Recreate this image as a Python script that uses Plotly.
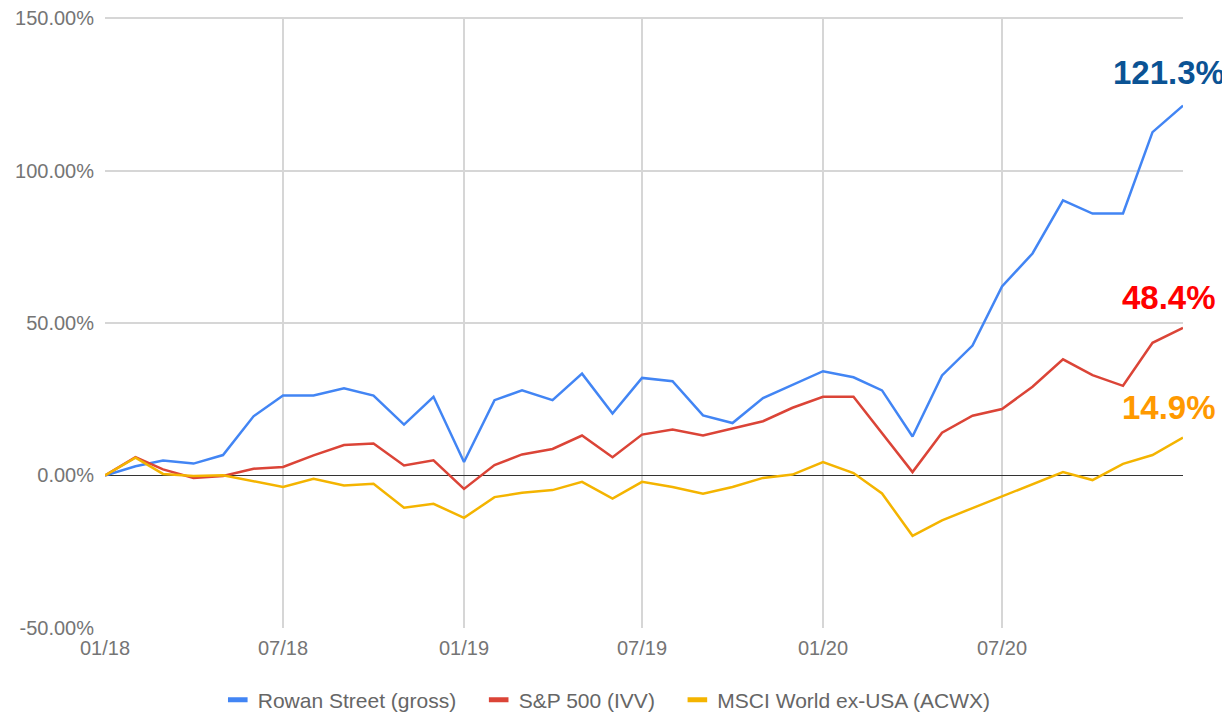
import plotly.graph_objects as go
import pandas as pd

dates = pd.date_range("2018-01-01", "2021-01-01", freq="MS")
tick_dates = pd.date_range("2018-01-01", "2020-07-01", freq="6MS")
y_ticks = [-50, 0, 50, 100, 150]

rowan = [0, 3.0, 4.9, 3.9, 6.7, 19.4, 26.2, 26.2, 28.6, 26.2, 16.7, 25.8, 4.4,
         24.7, 27.9, 24.7, 33.4, 20.3, 32.0, 30.9, 19.7, 17.2, 25.4, 29.6, 34.2,
         32.2, 27.9, 12.8, 32.8, 42.6, 62.0, 72.8, 90.2, 85.9, 85.9, 112.6, 121.3]
sp500 = [0, 6.0, 2.0, -0.8, -0.2, 2.2, 2.8, 6.6, 10.0, 10.5, 3.3, 5.0, -4.4,
         3.4, 6.9, 8.7, 13.1, 6.0, 13.4, 15.1, 13.1, 15.3, 17.8, 22.2, 25.8,
         25.8, 13.8, 1.1, 14.0, 19.6, 21.8, 29.1, 38.1, 32.9, 29.4, 43.5, 48.4]
msci = [0, 5.8, 0.5, -0.2, 0.1, -1.9, -3.8, -1.1, -3.3, -2.7, -10.6, -9.3, -13.9,
        -7.1, -5.7, -4.8, -2.1, -7.6, -2.1, -3.8, -6.0, -3.8, -0.8, 0.3, 4.4,
        0.8, -5.9, -19.8, -14.7, -10.7, -6.8, -2.9, 1.1, -1.5, 3.8, 6.7, 12.4]

names = ["Rowan Street (gross)", "S&P 500 (IVV)", "MSCI World ex-USA (ACWX)"]
colors = ["#4285f4", "#db4437", "#f4b400"]
labels = ["121.3%", "48.4%", "14.9%"]
label_colors = ["#0b5394", "#ff0000", "#ff9900"]
label_y = [132.3, 58.3, 22.3]

fig = go.Figure()
for name, vals, c in zip(names, [rowan, sp500, msci], colors):
    fig.add_trace(go.Scatter(x=dates, y=vals, mode="lines", name=name,
                             line=dict(color=c, width=2.5), showlegend=False))
for i, (name, c) in enumerate(zip(names, colors)):
    pad = "\u00a0\u00a0\u00a0" if i < len(names) - 1 else ""
    fig.add_trace(go.Scatter(x=[None], y=[None], mode="markers", name=name + pad,
                             marker=dict(symbol="line-ew-open", size=14, color=c,
                                         line=dict(width=5, color=c))))

for txt, c, yv in zip(labels, label_colors, label_y):
    fig.add_annotation(x=dates[-1], y=yv, xref="x", yref="y", text="<b>" + txt + "</b>",
                       showarrow=False, xanchor="center", yanchor="middle", xshift=-14,
                       font=dict(family="Liberation Sans, Arial", size=33, color=c))

# page body has an 8px margin, so the figure is sized to fit the 1230x712 window
fig.update_layout(
    width=1222, height=704,
    margin=dict(l=97, r=47, t=9, b=84),
    paper_bgcolor="white", plot_bgcolor="white",
    font=dict(family="Liberation Sans, Arial", size=20, color="#757575"),
    showlegend=True,
    legend=dict(orientation="h", x=0.49, xanchor="center", xref="container",
                y=0.017, yanchor="middle", yref="container",
                font=dict(size=21, color="#666666"), itemwidth=30),
)
fig.update_xaxes(range=[dates[0], dates[-1]], tickvals=list(tick_dates),
                 ticktext=[d.strftime("%m/%y") for d in tick_dates],
                 showgrid=True, gridcolor="#d6d6d6", gridwidth=1.5,
                 showline=False, zeroline=False, ticks="", automargin=False,
                 ticklabelstandoff=6)
fig.update_yaxes(range=[-50.02, 150.35], tickvals=y_ticks,
                 ticktext=["%.2f%%" % v for v in y_ticks],
                 showgrid=True, gridcolor="#d6d6d6", gridwidth=1.5,
                 zeroline=True, zerolinecolor="#333333", zerolinewidth=1.3,
                 showline=False, ticks="", automargin=False, ticklabelstandoff=10,
                 ticklabeloverflow="allow")

fig.write_html("out.html")
